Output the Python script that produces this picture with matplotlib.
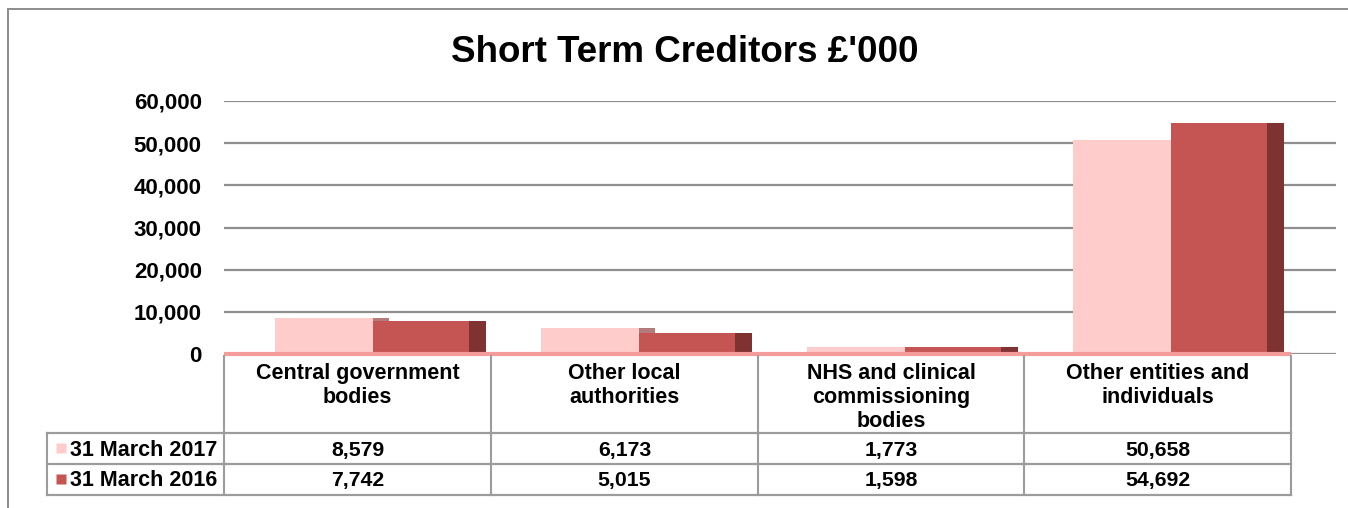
import matplotlib
matplotlib.use('Agg')
import matplotlib.pyplot as plt
from matplotlib.lines import Line2D
import numpy as np

plt.rcParams['font.family'] = ['Liberation Sans', 'DejaVu Sans']
plt.rcParams['font.weight'] = 'bold'

# ---- data ----
categories = [['Central government', 'bodies'],
              ['Other local', 'authorities'],
              ['NHS and clinical', 'commissioning', 'bodies'],
              ['Other entities and', 'individuals']]
series_names = ['31 March 2017', '31 March 2016']
v2017 = [8579, 6173, 1773, 50658]
v2016 = [7742, 5015, 1598, 54692]
yticks = [0, 10000, 20000, 30000, 40000, 50000, 60000]

C_PINK, C_PINK_SIDE = '#FFCCCC', '#B57A7A'
C_RED, C_RED_SIDE = '#C55552', '#7F3232'
GRID = '#8F8F8F'
TBL = '#9C9C9C'

W, H = 1348, 508
fig = plt.figure(figsize=(W / 100, H / 100), dpi=100)

# pixel helpers (layout only)
def fx(px): return px / W
def fy(py): return 1 - py / H

COLW = 266.0  # pixels per category
x0_px, xend_px, ytop_px, y0_px = 224, 1336, 101, 354

ax = fig.add_axes([fx(x0_px), fy(y0_px), (xend_px - x0_px) / W, (y0_px - ytop_px) / H])
ax.set_xlim(-0.5, -0.5 + (xend_px - x0_px) / COLW)
ax.set_ylim(0, 60000)
for s in ax.spines.values():
    s.set_visible(False)
ax.set_xticks([])
ax.set_yticks(yticks)
ax.set_yticklabels([f'{t:,}' for t in yticks], fontsize=16, fontweight='bold')
ax.tick_params(axis='y', length=0, pad=16)
ax.set_axisbelow(True)
ax.yaxis.grid(True, color=GRID, lw=1.6)

x = np.arange(len(v2017))
ax.bar(x - 0.124, v2017, width=0.368, color=C_PINK, zorder=3)
ax.bar(x + 0.09, v2017, width=0.06, color=C_PINK_SIDE, zorder=2.5)
ax.bar(x + 0.241, v2016, width=0.361, color=C_RED, zorder=4)
ax.bar(x + 0.453, v2016, width=0.064, color=C_RED_SIDE, zorder=4)
# floor edge
ax.axhline(0, xmin=0, xmax=(3.5 + 0.5 + 0.01) / (ax.get_xlim()[1] + 0.5),
           color='#F49C9C', lw=3, zorder=5, solid_capstyle='butt', clip_on=False)

# ---- data table ----
tleft_px, tbot_px = 47, 496
tleft = -0.5 - (x0_px - tleft_px) / COLW
tx = fig.add_axes([fx(tleft_px), fy(tbot_px), (1291 - tleft_px) / W, (tbot_px - y0_px) / H])
tx.set_xlim(tleft, 3.5)
tx.set_ylim(tbot_px, y0_px)
tx.axis('off')

bounds = np.arange(len(categories) + 1) - 0.5
row_top, row_mid, row_bot = 433, 464, 495
for b in bounds:
    tx.plot([b, b], [y0_px + 2, row_bot], color=TBL, lw=1.5, clip_on=False)
tx.plot([tleft, tleft], [row_top, row_bot], color=TBL, lw=1.5, clip_on=False)
for yy in (row_top, row_mid, row_bot):
    tx.plot([tleft, 3.5], [yy, yy], color=TBL, lw=1.6, clip_on=False)

for i, lines in enumerate(categories):
    for k, line in enumerate(lines):
        tx.text(i, 379 + 24 * k, line, ha='center', va='baseline',
                fontsize=15.5, fontweight='bold')

row_base = [456, 486.5]
colors = [C_PINK, C_RED]
for name, vals, base, c in zip(series_names, [v2017, v2016], row_base, colors):
    tx.plot([tleft + 14 / COLW], [base - 7.5], marker='s', ms=7.5, color=c,
            mec='none', clip_on=False)
    tx.text(tleft + 23 / COLW, base, name, ha='left', va='baseline',
            fontsize=15.5, fontweight='bold')
    for i, v in enumerate(vals):
        tx.text(i, base, f'{v:,}', ha='center', va='baseline',
                fontsize=15.3, fontweight='bold')

# ---- title and chart frame ----
fig.text(fx(685), fy(62), "Short Term Creditors £'000", ha='center', va='baseline',
         fontsize=26.5, fontweight='bold')
fig.add_artist(Line2D([fx(8), 1], [fy(9), fy(9)], color='#8C8C8C', lw=1.4))
fig.add_artist(Line2D([fx(8), fx(8)], [fy(9), 0], color='#8C8C8C', lw=1.4))

fig.savefig('out.png', dpi=100)
